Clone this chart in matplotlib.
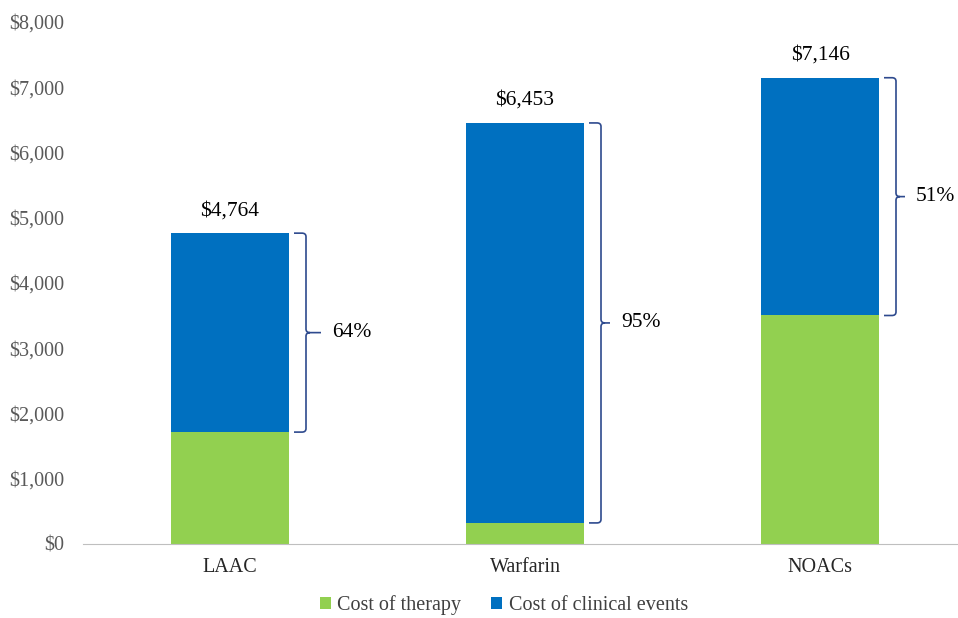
import matplotlib
matplotlib.use("Agg")
import matplotlib.pyplot as plt
from matplotlib.path import Path
from matplotlib.patches import PathPatch

categories = ["LAAC", "Warfarin", "NOACs"]
therapy = [1715, 323, 3502]
clinical = [3049, 6130, 3644]
totals = [4764, 6453, 7146]
shares = ["64%", "95%", "51%"]
yticks = [0, 1000, 2000, 3000, 4000, 5000, 6000, 7000, 8000]

GREEN = "#92D050"
BLUE = "#0070C0"
BRACE = "#2E4A8E"

plt.rcParams["font.family"] = ["Liberation Serif", "DejaVu Serif"]

fig = plt.figure(figsize=(9.58, 6.18), dpi=100)
ax = fig.add_axes([82.5 / 958, 74 / 618, 885 / 958, 522 / 618])

x = list(range(len(categories)))
width = 0.4
ax.bar(x, therapy, width, color=GREEN, label="Cost of therapy")
ax.bar(x, clinical, width, bottom=therapy, color=BLUE, label="Cost of clinical events")

ax.set_xlim(-0.5, 2.5)
ax.set_ylim(0, 8000)
ax.set_yticks(yticks)
ax.set_yticklabels([f"${v:,}" for v in yticks], color="#595959", fontsize=14.5)
ax.set_xticks(x)
ax.set_xticklabels(categories, fontsize=14.5, color="#262626")
ax.tick_params(axis="both", length=0)
ax.tick_params(axis="y", pad=13)
ax.tick_params(axis="x", pad=10)
for s in ["top", "right", "left"]:
    ax.spines[s].set_visible(False)
ax.spines["bottom"].set_color("#BFBFBF")
ax.spines["bottom"].set_linewidth(0.8)

# total labels above each bar
for xi, t in zip(x, totals):
    ax.text(xi, t + 200, f"${t:,}", ha="center", va="bottom", fontsize=15.5, color="black")

# braces spanning the clinical-events segment
px = 1 / 295  # one pixel in x data units
tick_len = [15, 9, 9]
rx, ry = 4 * px, 55
for xi, lo, c, pct, tl in zip(x, therapy, clinical, shares, tick_len):
    hi = lo + c
    mid = (lo + hi) / 2
    xb = xi + width / 2 + 17 * px
    x0 = xi + width / 2 + 5 * px
    verts = [
        (x0, hi), (xb - rx, hi), (xb, hi), (xb, hi - ry),
        (xb, mid + ry), (xb, mid), (xb + rx, mid), (xb + tl * px, mid),
        (xb + rx, mid), (xb, mid), (xb, mid - ry),
        (xb, lo + ry), (xb, lo), (xb - rx, lo), (x0, lo),
    ]
    codes = [
        Path.MOVETO, Path.LINETO, Path.CURVE3, Path.CURVE3,
        Path.LINETO, Path.CURVE3, Path.CURVE3, Path.LINETO,
        Path.MOVETO, Path.CURVE3, Path.CURVE3,
        Path.LINETO, Path.CURVE3, Path.CURVE3, Path.LINETO,
    ]
    ax.add_patch(PathPatch(Path(verts, codes), fill=False, edgecolor=BRACE, lw=1.2))
    ax.text(xb + (tl + 11) * px, mid, pct, ha="left", va="center", fontsize=15.5, color="black")

leg = fig.legend(loc="lower center", bbox_to_anchor=(0.526, -0.025), ncol=2, frameon=False,
                 fontsize=14.5, handlelength=0.55, handleheight=0.55, handletextpad=0.3,
                 columnspacing=1.5, labelcolor="#404040")

fig.savefig("out.png", dpi=100)
